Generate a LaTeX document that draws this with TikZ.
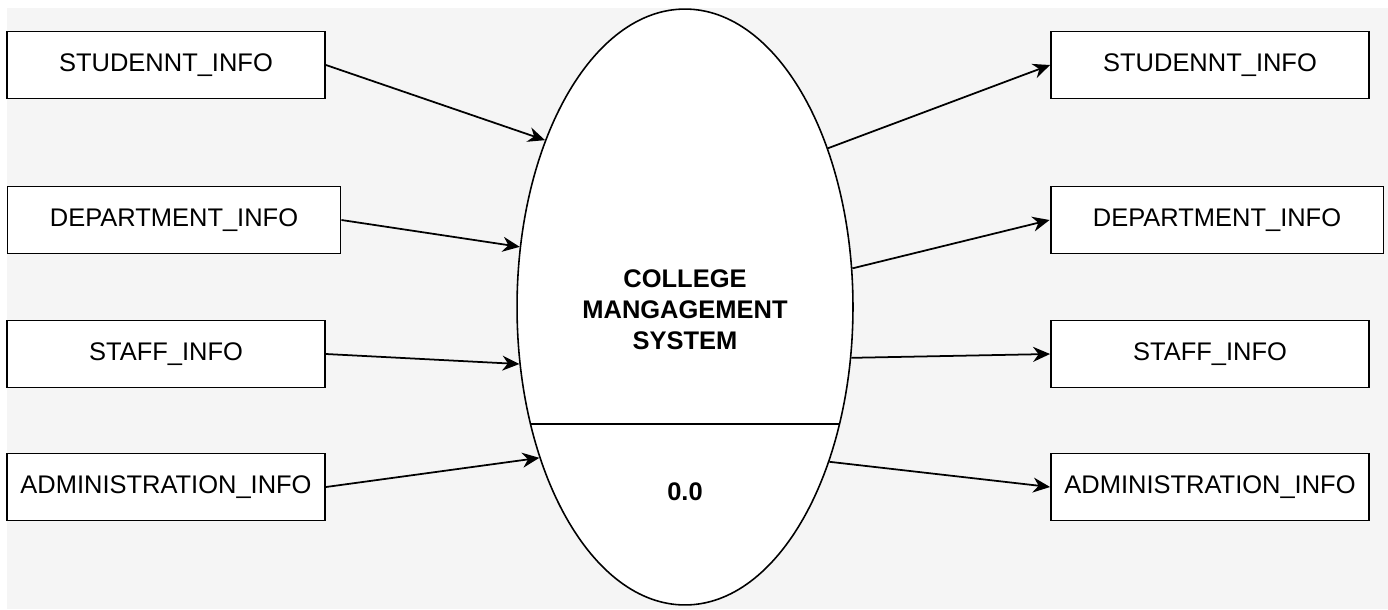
\documentclass[tikz,border=0pt]{standalone}
\usepackage{fontspec}
\setmainfont{Liberation Sans}
\usetikzlibrary{shapes.geometric,arrows.meta}

\begin{document}
\begin{tikzpicture}[x=0.02cm, y=-0.02cm,
      font=\fontsize{14.5}{17.6}\selectfont,
      entity/.style={draw, line width=1.1pt, fill=white, minimum width=6.36cm, minimum height=1.34cm, inner sep=0pt},
      flow/.style={line width=1pt, -{Stealth[length=0.34cm, width=0.3cm]}}]
      \useasboundingbox (0, 0) rectangle (1388, 609);
      \fill[black!4] (7, 8) rectangle (1388, 609);
      % process
      \node[ellipse, draw, line width=0.9pt, fill=white, minimum width=6.72cm, minimum height=11.92cm,
            align=center, font=\fontsize{14.5}{17.6}\bfseries] (cms) at (685, 307) {};
      \node[font=\fontsize{14.5}{17.6}\bfseries, align=center] (title) at (685, 310) {COLLEGE\\MANGAGEMENT\\SYSTEM};
      \node[font=\fontsize{14.5}{17.6}\bfseries] (num) at (685, 492) {0.0};
      \draw[line width=0.9pt] (cms.217.7) -- (cms.-37.7);
      % inputs
      \node[entity] (studin) at (166, 65) {STUDENNT\_INFO};
      \node[entity, minimum width=6.66cm] (deptin) at (174, 220) {DEPARTMENT\_INFO};
      \node[entity] (staffin) at (166, 354) {STAFF\_INFO};
      \node[entity] (adminin) at (166, 487) {ADMINISTRATION\_INFO};
      % outputs
      \node[entity] (studout) at (1210, 65) {STUDENNT\_INFO};
      \node[entity, minimum width=6.66cm] (deptout) at (1217, 220) {DEPARTMENT\_INFO};
      \node[entity] (staffout) at (1210, 354) {STAFF\_INFO};
      \node[entity] (adminout) at (1210, 487) {ADMINISTRATION\_INFO};
      \draw[flow] (studin.east) -- (cms.130.8);
      \draw[flow] (deptin.east) -- (cms.160.3);
      \draw[flow] (staffin.east) -- (cms.199);
      \draw[flow] (adminin.east) -- (cms.226);
      \draw[flow] (cms.48.2) -- (studout.west);
      \draw[flow] (cms.13.3) -- (deptout.west);
      \draw[flow] (cms.-17) -- (staffout.west);
      \draw[flow] (cms.-47.3) -- (adminout.west);
\end{tikzpicture}
\end{document}
